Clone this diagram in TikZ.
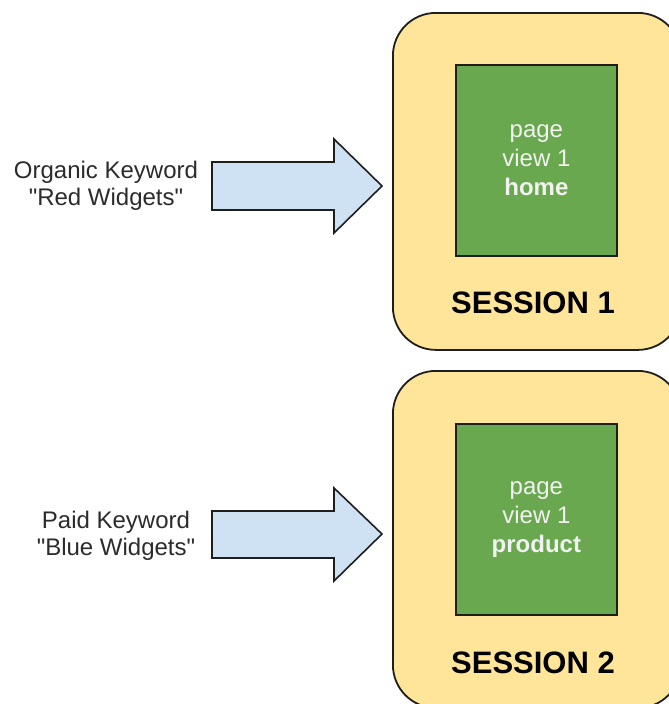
\documentclass[tikz,border=0pt]{standalone}
\usepackage{fontspec}
\setmainfont{Liberation Sans}[Ligatures=TeXOff]
\definecolor{sessfill}{HTML}{FFE599}
\definecolor{pagefill}{HTML}{6AA84F}
\definecolor{arrowfill}{HTML}{CFE2F3}
\definecolor{edge}{HTML}{1E1E1E}
\definecolor{labeltext}{HTML}{2B2B2B}
\begin{document}
\begin{tikzpicture}[x=1pt,y=-1pt,
  sessbox/.style={draw=edge, fill=sessfill, line width=1.8pt, rounded corners=43pt,
    anchor=north west, minimum width=288pt, minimum height=337pt, inner sep=0pt},
  pagebox/.style={draw=edge, fill=pagefill, line width=1.8pt, anchor=north west,
    minimum width=161pt, minimum height=191pt, inner sep=0pt, align=center,
    text=white!95!black, font=\fontsize{24}{29}\selectfont},
  sesslabel/.style={font=\fontsize{31}{34}\selectfont\bfseries, text=black, inner sep=0pt},
  kwlabel/.style={align=center, text=labeltext, font=\fontsize{24}{27}\selectfont, inner sep=0pt},
  blockarrow/.style={draw=edge, fill=arrowfill, line width=1.6pt, line join=miter}
]
\useasboundingbox (0,0) rectangle (669,704);
\clip (0,0) rectangle (669,704);

% Session 1
\node[sessbox] (s1) at (392,12) {};
\node[pagebox] (p1) at (455,64) {page\\view 1\\\textbf{home}};
\node[sesslabel] (l1) at (533,303) {SESSION 1};

% Session 2
\node[sessbox] (s2) at (392,370) {};
\node[pagebox] (p2) at (455,423) {page\\view 1\\\textbf{product}};
\node[sesslabel] (l2) at (533,663) {SESSION 2};

% Keyword labels
\node[kwlabel] (k1) at (106,186) {Organic Keyword\\"Red Widgets"};
\node[kwlabel] (k2) at (116,536) {Paid Keyword\\"Blue Widgets"};

% Block arrows
\draw[blockarrow] (212,162) -- (334,162) -- (334,139) -- (382,186) -- (334,233) -- (334,210) -- (212,210) -- cycle;
\draw[blockarrow] (212,511) -- (334,511) -- (334,488) -- (382,534) -- (334,581) -- (334,558) -- (212,558) -- cycle;
\end{tikzpicture}
\end{document}
